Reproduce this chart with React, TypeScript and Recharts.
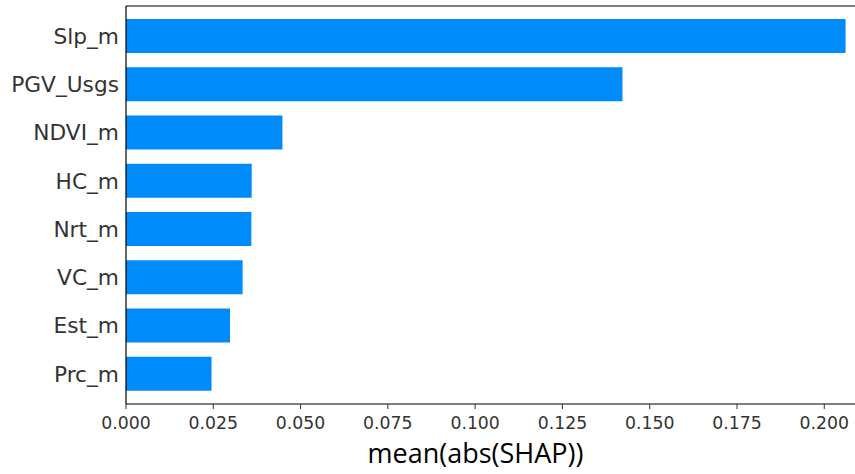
import React from "react";
import { BarChart, Bar, XAxis, YAxis, Label, CartesianGrid } from "recharts";

// mean |SHAP| per feature, largest first
const features = ["Slp_m", "PGV_Usgs", "NDVI_m", "HC_m", "Nrt_m", "VC_m", "Est_m", "Prc_m"];
const meanAbsShap = [0.2061, 0.1422, 0.0448, 0.036, 0.0359, 0.0334, 0.0298, 0.0245];
const xTicks = [0, 0.025, 0.05, 0.075, 0.1, 0.125, 0.15, 0.175, 0.2];

const data = features.map((name, i) => ({ name, value: meanAbsShap[i] }));

const SHAP_BLUE = "#008bfb";

const App: React.FC = () => {
  return (
    <div style={{ position: "absolute", left: 0, top: 0, background: "#fff" }}>
      <BarChart
        width={855}
        height={474}
        data={data}
        layout="vertical"
        margin={{ top: 6, right: 0, bottom: 10, left: 0 }}
      >
        {/* top spine only */}
        <CartesianGrid
          vertical={false}
          horizontalCoordinatesGenerator={({ offset }: any) => [offset.top]}
          stroke="#000"
          strokeWidth={1.2}
        />
        <XAxis
          type="number"
          domain={[0, 0.2088]}
          ticks={xTicks}
          allowDataOverflow
          height={60}
          tickFormatter={(v: number) => v.toFixed(3)}
          tick={{ fill: "#333", fontSize: 17.3, fontFamily: "DejaVu Sans" }}
          tickSize={5}
          tickMargin={8}
          axisLine={{ stroke: "#000", strokeWidth: 1.2 }}
          tickLine={{ stroke: "#333" }}
        >
          <Label
            content={({ viewBox }: any) => (
              <text
                x={viewBox.x + viewBox.width / 2 - 15}
                y={viewBox.y + 59}
                textAnchor="middle"
                fill="#000"
                fontSize={27}
                fontFamily="Open Sans"
              >
                mean(abs(SHAP))
              </text>
            )}
          />
        </XAxis>
        <YAxis
          type="category"
          dataKey="name"
          width={126}
          padding={{ top: 6, bottom: 6 }}
          tickSize={0}
          tickMargin={7}
          tickLine={false}
          axisLine={{ stroke: "#000", strokeWidth: 1.2 }}
          tick={{ fill: "#333", fontSize: 21.7, fontFamily: "DejaVu Sans" }}
        />
        <Bar dataKey="value" fill={SHAP_BLUE} barSize={34} isAnimationActive={false} />
      </BarChart>
    </div>
  );
};

export default App;
